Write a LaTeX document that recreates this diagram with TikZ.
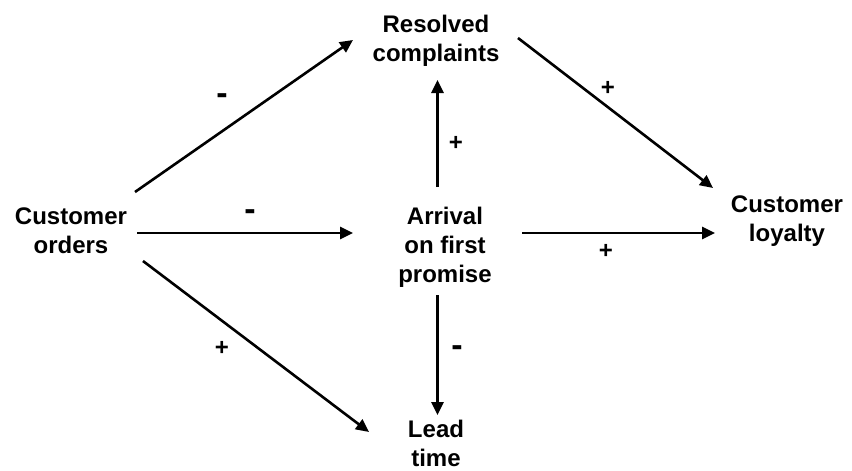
\documentclass[tikz,border=0pt]{standalone}
\usepackage{fontspec}
\setmainfont{Liberation Sans}[BoldFont={Liberation Sans Bold}]
\usetikzlibrary{arrows.meta}
\tikzset{
  concept/.style={align=center, inner sep=0pt, anchor=base, font=\fontsize{24}{29}\selectfont\bfseries},
  sign/.style={inner sep=0pt, font=\fontsize{24}{29}\selectfont\bfseries},
  minus/.style={inner sep=0pt, font=\fontsize{34}{34}\selectfont\bfseries},
  arr/.style={line width=2.6pt, -{Triangle[length=13pt, width=12pt]}},
}
\begin{document}
\begin{tikzpicture}[x=1pt, y=-1pt]
\useasboundingbox (0,0) rectangle (852,471);
\node[concept] (orders) at (71,253) {Customer\\orders};
\node[concept] (resolved) at (436,61) {Resolved\\complaints};
\node[concept] (arrival) at (445,282) {Arrival\\on first\\promise};
\node[concept] (loyalty) at (787,241) {Customer\\loyalty};
\node[concept] (lead) at (436,466.5) {Lead\\time};

\draw[arr] ([shift={(64,-61)}]orders.base) -- ([shift={(-83,-21)}]resolved.base);
\draw[arr] ([shift={(66,-20)}]orders.base) -- ([shift={(-92,-49)}]arrival.base);
\draw[arr] ([shift={(72,8)}]orders.base) -- ([shift={(-67,-34.5)}]lead.base);
\draw[arr] ([shift={(-7.5,-95)}]arrival.base) -- ([shift={(1.5,19)}]resolved.base);
\draw[arr] ([shift={(77,-49)}]arrival.base) -- ([shift={(-72,-8)}]loyalty.base);
\draw[arr] ([shift={(-7.5,13)}]arrival.base) -- ([shift={(1.5,-51.5)}]lead.base);
\draw[arr] ([shift={(82,-23)}]resolved.base) -- ([shift={(-74,-53)}]loyalty.base);

\node[minus] (m1) at (222,99) {-};
\node[minus] (m2) at (250,215) {-};
\node[minus] (m3) at (457,351) {-};
\node[sign] (p1) at (456,143) {+};
\node[sign] (p2) at (608,88) {+};
\node[sign] (p3) at (606,251) {+};
\node[sign] (p4) at (222,348) {+};
\end{tikzpicture}
\end{document}
